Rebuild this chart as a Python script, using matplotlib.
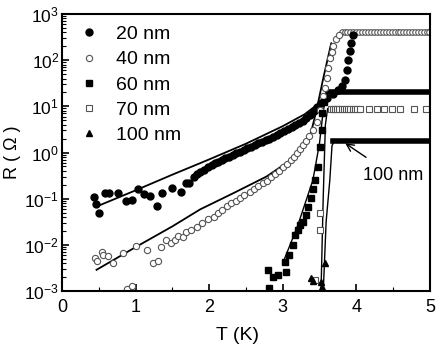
import numpy as np
import matplotlib
matplotlib.use('Agg')
import matplotlib.pyplot as plt
from matplotlib.ticker import LogLocator, MultipleLocator

plt.rcParams['font.family'] = ['Liberation Sans', 'DejaVu Sans']
plt.rcParams['mathtext.fontset'] = 'custom'
plt.rcParams['mathtext.rm'] = 'Liberation Sans'
plt.rcParams['mathtext.it'] = 'Liberation Sans:italic'

labels = ['20 nm', '40 nm', '60 nm', '70 nm', '100 nm']

# 20 nm, filled circles (log10 R)
t20 = [0.43, 0.46, 0.51, 0.58, 0.64, 0.76, 0.87, 0.95, 1.04, 1.11, 1.20, 1.29, 1.36,
       1.49, 1.62, 1.68, 1.73, 1.80, 1.84, 1.88, 1.93, 1.98, 2.04, 2.08, 2.12,
       2.17, 2.22, 2.27, 2.32, 2.37, 2.42, 2.47, 2.52, 2.57, 2.62, 2.67, 2.72, 2.77,
       2.82, 2.87, 2.92, 2.97, 3.02, 3.07, 3.12, 3.17, 3.22, 3.27, 3.32, 3.37, 3.42,
       3.47, 3.52, 3.60, 3.68, 3.75, 3.80, 3.84, 3.87, 3.89, 3.91, 3.93, 3.95]
lr20 = [-0.96, -1.12, -1.32, -0.88, -0.88, -0.87, -1.06, -1.03, -0.80, -0.90, -0.94, -1.16, -0.88,
        -0.76, -0.85, -0.65, -0.67, -0.52, -0.47, -0.42, -0.38, -0.32, -0.27, -0.23, -0.20,
        -0.16, -0.12, -0.09, -0.05, -0.02, 0.02, 0.05, 0.09, 0.13, 0.16, 0.20, 0.23, 0.27,
        0.30, 0.34, 0.38, 0.42, 0.46, 0.50, 0.55, 0.59, 0.64, 0.69, 0.75, 0.82, 0.90,
        0.98, 1.07, 1.18, 1.26, 1.35, 1.45, 1.57, 1.78, 2.00, 2.20, 2.37, 2.55]
band20 = slice(18, 53)

# 40 nm, open circles
t40 = [0.45, 0.48, 0.54, 0.56, 0.63, 0.69, 0.83, 0.88, 0.95, 1.00, 1.16, 1.24, 1.30,
       1.35, 1.41, 1.48, 1.54, 1.58, 1.65, 1.69, 1.76, 1.83, 1.91, 1.99, 2.06, 2.12,
       2.18, 2.24, 2.30, 2.36, 2.42, 2.48, 2.55, 2.61, 2.67, 2.73, 2.78, 2.84, 2.90,
       2.95, 3.01, 3.06, 3.11, 3.15, 3.19, 3.23, 3.27, 3.32, 3.36, 3.41, 3.46, 3.51,
       3.55, 3.57, 3.60, 3.62, 3.64, 3.67, 3.69, 3.73, 3.77]
lr40 = [-2.29, -2.34, -2.15, -2.22, -2.24, -2.40, -2.17, -2.96, -2.89, -2.02, -2.10, -2.40, -2.34,
        -2.04, -1.90, -1.95, -1.90, -1.81, -1.84, -1.72, -1.68, -1.61, -1.52, -1.45, -1.39, -1.32,
        -1.24, -1.15, -1.10, -1.04, -0.98, -0.92, -0.85, -0.80, -0.73, -0.67, -0.61, -0.53, -0.47,
        -0.40, -0.32, -0.25, -0.16, -0.09, -0.01, 0.08, 0.16, 0.25, 0.35, 0.48, 0.67, 0.92,
        1.22, 1.40, 1.61, 1.82, 2.04, 2.18, 2.30, 2.45, 2.55]
t40_top = [3.80, 3.84, 3.88, 3.92, 3.96, 4.00, 4.04, 4.08, 4.12, 4.16, 4.20, 4.24, 4.28,
           4.32, 4.36, 4.40, 4.44, 4.48, 4.52, 4.56, 4.60, 4.64, 4.68, 4.72, 4.76, 4.80,
           4.84, 4.88, 4.92, 4.96, 4.99]
lr40_top = 2.61

# 60 nm, filled squares
t60 = [2.80, 2.82, 2.87, 2.93, 3.03, 3.05, 3.09, 3.14, 3.17, 3.21, 3.24, 3.27, 3.31,
       3.34, 3.38, 3.41, 3.44, 3.48, 3.50, 3.53, 3.54, 3.56]
lr60 = [-2.54, -2.94, -2.69, -2.65, -2.38, -2.59, -2.22, -2.00, -1.79, -1.68, -1.58, -1.50, -1.35,
        -1.17, -0.99, -0.78, -0.60, -0.31, 0.13, 0.49, 0.85, 1.10]
t60_top = [3.62, 5.0]
lr60_top = 1.31

# 70 nm, open squares
t70 = [3.44, 3.50, 3.51, 3.65, 3.68, 3.71, 3.74, 3.77, 3.80, 3.83, 3.86, 3.89, 3.92, 3.95,
       3.98, 4.01, 4.05, 4.17, 4.28, 4.38, 4.48, 4.59, 4.78, 4.95]
lr70 = [-2.76, -1.68, -1.30, 0.95, 0.95, 0.95, 0.95, 0.95, 0.95, 0.95, 0.95, 0.95, 0.95, 0.95,
        0.95, 0.95, 0.95, 0.95, 0.95, 0.95, 0.95, 0.95, 0.95, 0.95]

# 100 nm, triangles
t100 = [3.39, 3.41, 3.52, 3.53, 3.57]
lr100 = [-2.72, -2.78, -2.80, -2.92, -2.40]
t100_top = [3.68, 5.0]
lr100_top = 0.24

# model curves (solid lines)
fit20_t = [0.47, 1.0, 1.5, 2.0, 2.5, 3.0, 3.3, 3.48]
fit20_lr = [-1.17, -0.82, -0.48, -0.15, 0.19, 0.57, 0.83, 1.05]
fit40_t = [0.47, 1.0, 1.5, 1.88, 2.33, 2.78, 3.14, 3.37, 3.46, 3.55, 3.66, 3.71]
fit40_lr = [-2.54, -2.05, -1.60, -1.23, -0.88, -0.52, -0.13, 0.34, 0.92, 1.60, 2.37, 2.15]
fit60_t = [3.00, 3.20, 3.41, 3.50, 3.55, 3.60]
fit60_lr = [-2.40, -1.60, -0.60, 0.20, 0.90, 1.25]
fit70_t = [3.52, 3.55, 3.58, 3.61]
fit70_lr = [-3.05, -1.00, 0.60, 0.95]
fit100_t = [3.55, 3.59, 3.64, 3.66, 3.67, 3.70]
fit100_lr = [-3.05, -1.50, -0.60, -0.10, 0.15, 0.24]

fig = plt.figure(figsize=(4.36, 3.49), dpi=100)
ax = fig.add_axes([0.142, 0.166, 0.844, 0.794])

def R(v):
    return 10 ** np.asarray(v, dtype=float)

ax.plot(fit20_t, R(fit20_lr), color='k', lw=1.3)
ax.plot(fit40_t, R(fit40_lr), color='k', lw=1.3)
ax.plot(fit60_t, R(fit60_lr), color='k', lw=1.0)
ax.plot(fit70_t, R(fit70_lr), color='k', lw=1.0)
ax.plot(fit100_t, R(fit100_lr), color='k', lw=1.0)

# dense 20 nm points merge into a thick band
ax.plot(t20[band20], R(lr20[band20]), '-', color='k', lw=3.5)
ax.plot([3.95, 5.0], R([2.58, 2.58]), color='k', lw=1.5)
ax.plot(t60_top, R([lr60_top] * 2), color='k', lw=4)
ax.plot(t100_top, R([lr100_top] * 2), color='k', lw=4)
ax.plot(t40_top, R([lr40_top] * len(t40_top)), 'o', ms=4, mfc='white', mec='#555555', mew=0.8)

h20, = ax.plot(t20, R(lr20), 'o', ms=5, color='k', label=labels[0])
h40, = ax.plot(t40, R(lr40), 'o', ms=4.5, mfc='white', mec='#555555', mew=0.8, label=labels[1])
h60, = ax.plot(t60, R(lr60), 's', ms=4, color='k', label=labels[2])
h70, = ax.plot(t70, R(lr70), 's', ms=4, mfc='white', mec='#555555', mew=0.8, label=labels[3])
h100, = ax.plot(t100, R(lr100), '^', ms=4.5, color='k', label=labels[4])

ax.annotate('100 nm', xy=(3.85, R(0.20)), xytext=(4.50, R(-0.50)), fontsize=13,
            ha='center', va='center',
            arrowprops=dict(arrowstyle='->', color='k', lw=1.0, shrinkA=9, shrinkB=0))

ax.set_yscale('log')
ax.set_xlim(0, 5)
ax.set_ylim(1e-3, 1e3)
ax.xaxis.set_major_locator(MultipleLocator(1))
ax.xaxis.set_minor_locator(MultipleLocator(0.5))
ax.yaxis.set_major_locator(LogLocator(base=10, numticks=10))
ax.yaxis.set_minor_locator(LogLocator(base=10, subs=np.arange(2, 10), numticks=20))
ax.tick_params(which='both', direction='in', top=False, right=False)
ax.tick_params(which='major', length=5, width=1.2)
ax.tick_params(which='minor', length=3, width=0.8)
ax.tick_params(axis='x', which='major', labelsize=13, pad=6)
ax.tick_params(axis='y', which='major', labelsize=12.5, pad=2)
for s in ax.spines.values():
    s.set_linewidth(1.5)

ax.set_xlabel('T (K)', fontsize=14)
ax.xaxis.set_label_coords(0.476, -0.128)
ax.set_ylabel('R ( Ω )', fontsize=13)
ax.yaxis.set_label_coords(-0.112, 0.5)

ax.legend(handles=[h20, h40, h60, h70, h100], loc='upper left', bbox_to_anchor=(0.015, 0.993),
          frameon=False, fontsize=14, handletextpad=0.8, labelspacing=0.39,
          handlelength=1.2, borderpad=0.2, borderaxespad=0.3)

fig.savefig('out.png', dpi=100)
